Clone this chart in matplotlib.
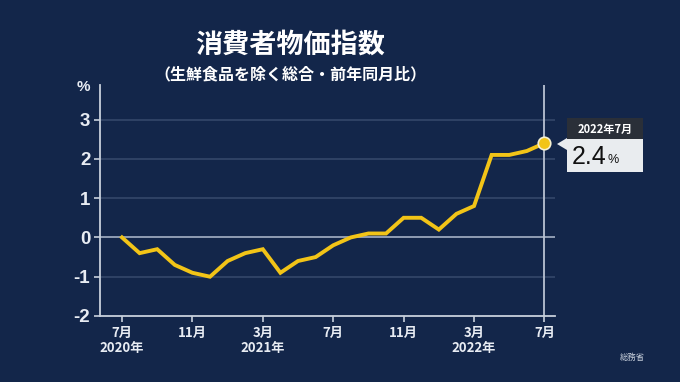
import numpy as np
import matplotlib.pyplot as plt
from matplotlib.patches import Rectangle, Polygon

plt.rcParams['font.family'] = ['Noto Sans CJK JP', 'DejaVu Sans']

# 2020年7月〜2022年7月 (前年同月比, %)
months = ['2020-07', '2020-08', '2020-09', '2020-10', '2020-11', '2020-12',
          '2021-01', '2021-02', '2021-03', '2021-04', '2021-05', '2021-06',
          '2021-07', '2021-08', '2021-09', '2021-10', '2021-11', '2021-12',
          '2022-01', '2022-02', '2022-03', '2022-04', '2022-05', '2022-06',
          '2022-07']
cpi = [0.0, -0.4, -0.3, -0.7, -0.9, -1.0,
       -0.6, -0.4, -0.3, -0.9, -0.6, -0.5,
       -0.2, 0.0, 0.1, 0.1, 0.5, 0.5,
       0.2, 0.6, 0.8, 2.1, 2.1, 2.2,
       2.4]
tick_pos = [0, 4, 8, 12, 16, 20, 24]
tick_labels = ['7月\n2020年', '11月', '3月\n2021年', '7月', '11月', '3月\n2022年', '7月']
yticks = [-2, -1, 0, 1, 2, 3]

bg = '#13264a'
fg = '#e8ecf3'
gold = '#f2c417'

x = np.arange(len(cpi))

fig = plt.figure(figsize=(6.8, 3.82), dpi=100, facecolor=bg)
ax = fig.add_axes([100/680, 1-316/382, 455/680, 231/382], facecolor=bg)

for v in yticks:
    if v == -2:
        continue
    if v == 0:
        ax.axhline(v, color='#9aa6bb', lw=1.3, zorder=1)
    else:
        ax.axhline(v, color='#34476a', lw=1.2, zorder=1)

ax.axvline(24, color='#b9c2d2', lw=1.3, zorder=1)

ax.plot(x, cpi, color=gold, lw=2.8, solid_joinstyle='miter', zorder=3)
ax.plot(x[-1], cpi[-1], 'o', ms=9, color=gold, mec='#f6f0d0', mew=1.2, zorder=4)

ax.set_xlim(-1.25, 24.6)
ax.set_ylim(-2, 3.88)
ax.set_yticks(yticks)
ax.set_yticklabels([str(v) for v in yticks], fontsize=13.5, fontweight='bold', color=fg,
                   family=['Liberation Sans', 'DejaVu Sans'])
ax.set_xticks(tick_pos)
ax.set_xticklabels(tick_labels, fontsize=9.5, fontweight='bold', color=fg, linespacing=1.1)
ax.tick_params(axis='both', colors='#c8d0dc', length=4, width=1.2)
ax.tick_params(axis='x', labelcolor=fg, pad=3)
ax.tick_params(axis='y', labelcolor=fg, pad=3)
for s in ['top', 'right']:
    ax.spines[s].set_visible(False)
for s in ['left', 'bottom']:
    ax.spines[s].set_color('#c8d0dc')
    ax.spines[s].set_linewidth(1.3)

fig.text(83/680, 1-87/382, '%', fontsize=11, fontweight='bold', color=fg, ha='center', va='center',
         family=['Liberation Sans', 'DejaVu Sans'])
fig.text(290/680, 1-45/382, '消費者物価指数', fontsize=19.5, fontweight='bold', color='white', ha='center', va='center')
fig.text(290/680, 1-74/382, '（生鮮食品を除く総合・前年同月比）', fontsize=11.5, fontweight='bold', color='white', ha='center', va='center')
fig.text(632/680, 1-357/382, '総務省', fontsize=6, color='#c8d0dc', ha='center', va='center')

# 注記ボックス
fig.patches.append(Rectangle((567/680, 1-139/382), 76/680, 21/382, transform=fig.transFigure,
                             facecolor='#2a2f38', edgecolor='none'))
fig.patches.append(Rectangle((567/680, 1-172/382), 76/680, 33/382, transform=fig.transFigure,
                             facecolor='#e9ecef', edgecolor='none'))
fig.patches.append(Polygon([(557/680, 1-144/382), (567/680, 1-138/382), (567/680, 1-150/382)],
                           closed=True, transform=fig.transFigure, facecolor='#e9ecef', edgecolor='none'))
fig.text(605/680, 1-129/382, '2022年7月', fontsize=8, fontweight='bold', color='white', ha='center', va='center')
fig.text(572/680, 1-157/382, '2.4', fontsize=18, color='#111111', ha='left', va='center',
         family=['Liberation Sans', 'DejaVu Sans'])
fig.text(607/680, 1-160/382, '%', fontsize=9, color='#111111', ha='left', va='center',
         family=['Liberation Sans', 'DejaVu Sans'])

fig.savefig('out.png', dpi=100, facecolor=bg)
